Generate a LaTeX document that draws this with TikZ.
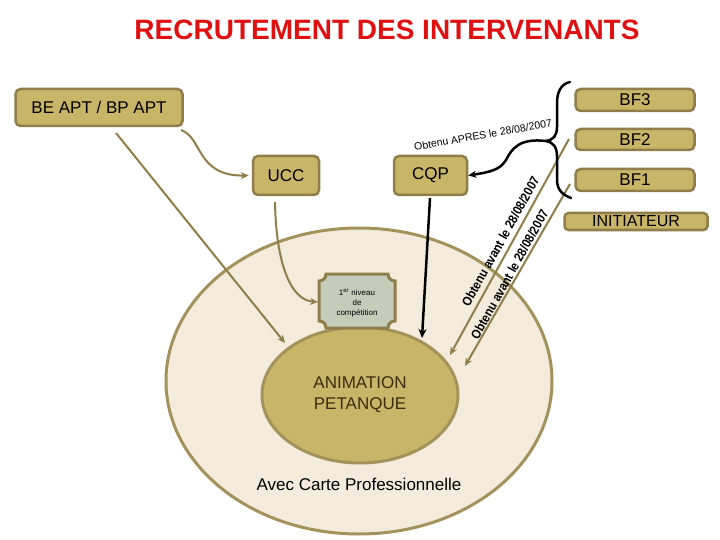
\documentclass[tikz,border=0pt]{standalone}
\usepackage{fontspec}
\setmainfont{Liberation Sans}
\usetikzlibrary{arrows.meta}
\definecolor{tanfill}{RGB}{201,181,104}
\definecolor{tanline}{RGB}{143,126,74}
\definecolor{ringline}{RGB}{163,146,89}
\definecolor{bigfill}{RGB}{243,236,220}
\definecolor{grayfill}{RGB}{197,204,186}
\definecolor{titlered}{RGB}{224,16,16}
\definecolor{darkbrown}{RGB}{58,44,14}
\begin{document}
\begin{tikzpicture}[x=1pt,y=-1pt,
  tanbox/.style={draw=tanline, fill=tanfill, line width=2.5pt, rounded corners=5pt, inner sep=0pt, font=\fontsize{17}{17}\selectfont},
  conn/.style={draw=tanline, line width=2pt, -{Stealth[length=8pt,width=7pt]}},
  avant/.style={font=\bfseries\fontsize{13}{13}\selectfont, rotate=61, inner sep=0pt},
  lbl/.style={inner sep=0pt, align=center}]
\useasboundingbox (0,0) rectangle (720,540);
% title
\node[lbl, text=titlered, font=\bfseries\fontsize{28}{28}\selectfont] (title) at (387,30) {RECRUTEMENT DES INTERVENANTS};
% rings
\draw[ringline, fill=bigfill, line width=3pt] (359,381) ellipse [x radius=193, y radius=153];
\node (ring) at (359,381) {};
\draw[ringline, fill=tanfill, line width=3pt] (360,395) ellipse [x radius=98, y radius=68];
\node[lbl, text=darkbrown, font=\fontsize{17}{21}\selectfont] (anim) at (360,395) {ANIMATION\\PETANQUE};
\node[lbl, font=\fontsize{17}{17}\selectfont] (carte) at (359,484) {Avec Carte Professionnelle};
% 1er niveau box with concave corners
\draw[tanline, fill=grayfill, line width=3pt]
  (326,274) -- (388,274) .. controls (388,278) and (391,281) .. (395,281)
  -- (395,321) .. controls (391,321) and (388,324) .. (388,328)
  -- (326,328) .. controls (326,324) and (323,321) .. (319,321)
  -- (319,281) .. controls (323,281) and (326,278) .. (326,274) -- cycle;
\node[lbl, font=\fontsize{8}{10}\selectfont] (niv) at (357,303) {1\textsuperscript{er} niveau\\de\\compétition};
\coordinate (nivw) at (318,302);
% boxes
\node[tanbox, minimum width=167pt, minimum height=37pt] (be) at (99,107.5) {BE APT / BP APT};
\node[tanbox, minimum width=119pt, minimum height=22pt] (bf3) at (635,100) {BF3};
\node[tanbox, minimum width=119pt, minimum height=21pt] (bf2) at (635,139.5) {BF2};
\node[tanbox, minimum width=119pt, minimum height=22pt] (bf1) at (635,180) {BF1};
\node[tanbox, minimum width=143pt, minimum height=17pt, rounded corners=4pt, font=\fontsize{16}{16}\selectfont] (init) at (636,221.5) {INITIATEUR};
\node[tanbox, minimum width=66pt, minimum height=39pt] (ucc) at (286,175.5) {UCC};
\node[tanbox, minimum width=73pt, minimum height=39pt] (cqp) at (430.5,175.5) {CQP};
% connector end points
\coordinate (beA) at (116,133);
\coordinate (beAe) at (285,343);
\coordinate (beB) at (181,130);
\coordinate (uccS) at (275,202);
\coordinate (cqpS) at (430,198);
\coordinate (cqpE) at (422,338);
\coordinate (lA) at (569,139);
\coordinate (lAe) at (450,355);
\coordinate (lB) at (570,184);
\coordinate (lBe) at (465,366);
\coordinate (cusp) at (546,141);
% connectors
\draw[conn] (beA) -- (beAe);
\draw[conn, shorten >=3pt] (beB) .. controls (203,138) and (196,176) .. (ucc.west);
\draw[conn] (uccS) .. controls (276,262) and (290,300) .. (nivw);
\draw[black, line width=2.5pt, -{Stealth[length=9pt,width=8pt]}] (cqpS) -- (cqpE);
\draw[conn] (lA) -- (lAe);
\draw[conn] (lB) -- (lBe);
\node[avant] (tA) at (500.5,241.5) {\scalebox{0.88}[1]{Obtenu avant le 28/08/2007}};
\node[avant] (tB) at (509.5,274.5) {\scalebox{0.88}[1]{Obtenu avant le 28/08/2007}};
% brace
\draw[black, line width=2.5pt, line cap=round]
  (570,82) .. controls (561,84) and (557,92) .. (557,103) -- (557,127)
  .. controls (557,136) and (553,140) .. (cusp)
  .. controls (553,142) and (557,147) .. (557,156) -- (557,180)
  .. controls (557,190) and (563,195) .. (571,198);
\draw[black, line width=2.5pt, -{Stealth[length=8pt,width=7pt]}]
  (cusp) .. controls (520,138) and (512,148) .. (506,160)
  .. controls (500,170) and (490,172) .. (cqp.east);
\node[lbl, font=\fontsize{10.5}{10.5}\selectfont, rotate=10] (apres) at (483,135) {Obtenu APRES le 28/08/2007};
\end{tikzpicture}
\end{document}
